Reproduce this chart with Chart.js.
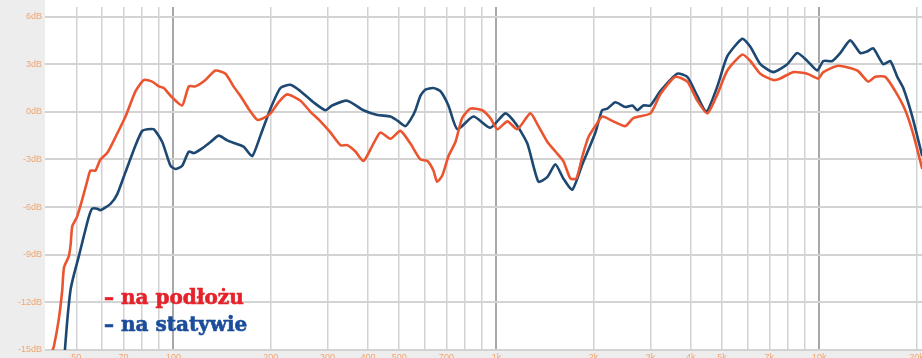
<!DOCTYPE html>
<html>
<head>
<meta charset="utf-8">
<script src="https://cdn.jsdelivr.net/npm/chart.js@4.4.1/dist/chart.umd.min.js"></script>
<style>
  html, body { margin: 0; padding: 0; background: #ffffff; }
  #wrap { width: 922px; height: 358px; position: relative; }
</style>
</head>
<body>
<div id="wrap"><canvas id="fr"></canvas></div>
<script>
// Frequency response, speaker on the floor ("na podłożu")
const surfaceHz = [42.2,42.6,44.1,45.2,45.8,47.4,48.0,48.6,50.3,52.2,54.0,55.3,57.3,59.4,62.3,66.1,71.0,76.3,80.9,85.9,90.1,93.3,99.1,106.4,111.5,117.0,125.6,134.9,144.9,153.4,161.2,170.7,181.6,189.9,199.7,211.4,224.9,247.3,265.6,285.2,306.2,328.9,345.0,366.0,387.5,416.1,437.4,469.7,504.4,541.6,581.6,611.4,638.3,655.2,680.4,710.2,746.7,783.1,830.8,903,958,1007,1082,1161,1274,1349,1439,1523,1612,1695,1769,1846,1927,2040,2129,2302,2508,2656,2998,3219,3583,3902,4191,4501,4833,5190,5776,6115,6566,7205,7574,8308,9180,9929,10290,11450,13110,14180,14910,16010,17190,18460,19540,20840];
const surfaceDb = [-15.0,-14.8,-13.1,-11.3,-9.8,-9.1,-8.4,-7.2,-6.6,-5.5,-4.4,-3.7,-3.7,-3.0,-2.6,-1.6,-0.3,1.3,2.0,1.9,1.6,1.5,0.9,0.4,1.6,1.6,2.0,2.6,2.4,1.6,1.0,0.2,-0.5,-0.4,-0.1,0.6,1.1,0.7,0.0,-0.6,-1.3,-2.1,-2.1,-2.5,-3.1,-2.0,-1.3,-1.7,-1.2,-2.0,-3.0,-3.1,-3.7,-4.4,-4.0,-2.8,-1.9,-0.4,0.2,0.1,-0.4,-1.1,-0.6,-1.1,-0.1,-0.9,-1.9,-2.5,-3.1,-4.2,-4.2,-2.8,-1.6,-0.8,-0.3,-0.6,-0.9,-0.4,-0.1,1.1,2.2,1.9,0.7,-0.1,1.1,2.6,3.6,3.2,2.4,2.0,2.1,2.5,2.4,2.1,2.5,2.9,2.6,1.9,2.2,2.2,1.3,0.1,-1.4,-3.6];

// Frequency response, speaker on a stand ("na statywie")
const standHz = [46.1,46.9,48.0,49.1,50.9,52.8,54.7,56.0,58.1,59.4,63.8,66.9,71.0,76.3,80.0,83.1,86.9,92.3,97.9,101.4,106.4,111.5,115.6,122.7,130.2,138.1,146.6,155.6,165.0,175.2,185.9,199.7,214.4,230.2,247.3,271.3,295.5,309.9,345.0,387.5,428.1,469.7,497.3,522.8,545.6,561.4,581.6,602.7,638.3,670.8,710.2,757.4,848.8,958.1,1066,1153,1247,1349,1439,1523,1612,1719,1846,2026,2124,2206,2336,2508,2637,2733,2852,2998,3219,3634,3902,4191,4469,4833,5190,5776,6115,6566,7205,7959,8547,9180,9858,10290,10970,11610,12470,13400,14080,14690,15780,16590,17440,18200,19410,20840];
const standDb = [-15.0,-13.1,-11.2,-10.3,-9.1,-7.8,-6.6,-6.1,-6.1,-6.2,-5.8,-5.2,-3.8,-2.1,-1.2,-1.1,-1.1,-1.9,-3.4,-3.6,-3.4,-2.5,-2.6,-2.3,-1.9,-1.5,-1.8,-2.0,-2.2,-2.8,-1.5,0.2,1.5,1.7,1.3,0.6,0.1,0.4,0.7,0.1,-0.2,-0.3,-0.6,-0.9,-0.4,0.1,1.0,1.4,1.5,1.3,0.4,-1.1,-0.3,-1.0,-0.1,-0.8,-2.0,-4.4,-4.1,-3.3,-4.2,-4.9,-3.3,-1.3,0.1,0.2,0.6,0.3,0.4,0.1,0.4,0.4,1.3,2.4,2.2,1.0,0.0,1.6,3.5,4.6,4.1,3.0,2.5,3.0,3.7,3.2,2.6,3.2,3.2,3.7,4.5,3.7,3.8,4.0,3.0,3.2,2.2,1.5,-0.3,-2.8];

// Axis ticks
const gridHz = [50,60,70,80,90,100,200,300,400,500,600,700,800,900,1000,2000,3000,4000,5000,6000,7000,8000,9000,10000,20000];
const decadeHz = [100,1000,10000];
const hzLabels = {50:'50',70:'70',100:'100',200:'200',300:'300',400:'400',500:'500',700:'700',1000:'1k',2000:'2k',3000:'3k',4000:'4k',5000:'5k',7000:'7k',10000:'10k',20000:'20k'};
const dbTicks = [-15,-12,-9,-6,-3,0,3,6];
const seriesNames = ['– na podłożu', '– na statywie'];

const curveColors = ['#ea5530', '#1d4871'];
const legendColors = ['#e5222a', '#1b4d9b'];

const toPoints = (xs, ys) => xs.map((x, i) => ({ x: x, y: ys[i] }));

const panelBackground = {
  id: 'panelBackground',
  beforeDraw(chart) {
    const { ctx, chartArea } = chart;
    ctx.save();
    ctx.fillStyle = '#ffffff';
    ctx.fillRect(0, 0, chart.width, chart.height);
    ctx.fillStyle = '#ededed';
    ctx.fillRect(0, 0, chartArea.left, chart.height);
    ctx.fillRect(0, chartArea.bottom, chart.width, chart.height - chartArea.bottom);
    ctx.restore();
  }
};

const seriesCaption = {
  id: 'seriesCaption',
  afterDraw(chart) {
    const { ctx } = chart;
    ctx.save();
    ctx.font = 'bold 20px "DejaVu Serif"';
    ctx.textBaseline = 'alphabetic';
    ctx.textAlign = 'left';
    ctx.lineWidth = 0.6;
    seriesNames.forEach((name, i) => {
      ctx.fillStyle = legendColors[i];
      ctx.strokeStyle = legendColors[i];
      ctx.fillText(name, 104, 304 + i * 27);
      ctx.strokeText(name, 104, 304 + i * 27);
    });
    ctx.restore();
  }
};

new Chart(document.getElementById('fr'), {
  type: 'line',
  data: {
    datasets: [
      {
        label: seriesNames[0],
        data: toPoints(surfaceHz, surfaceDb),
        borderColor: curveColors[0],
        borderWidth: 2.6,
        pointRadius: 0,
        tension: 0.2,
        fill: false
      },
      {
        label: seriesNames[1],
        data: toPoints(standHz, standDb),
        borderColor: curveColors[1],
        borderWidth: 2.6,
        pointRadius: 0,
        tension: 0.2,
        fill: false
      }
    ]
  },
  options: {
    responsive: true,
    maintainAspectRatio: false,
    animation: false,
    layout: { padding: { top: 7, left: 0, right: 0, bottom: 0 } },
    plugins: {
      legend: { display: false },
      tooltip: { enabled: false }
    },
    scales: {
      x: {
        type: 'logarithmic',
        min: 40,
        max: 20800,
        border: { display: false },
        grid: {
          drawTicks: false,
          color: (c) => decadeHz.includes(c.tick && c.tick.value) ? '#a8a8a8' : '#d2d2d2',
          lineWidth: (c) => decadeHz.includes(c.tick && c.tick.value) ? 2 : 1.5
        },
        afterBuildTicks: (scale) => { scale.ticks = gridHz.map(v => ({ value: v })); },
        afterFit: (scale) => { scale.height = 8; scale.paddingLeft = 0; scale.paddingRight = 0; },
        ticks: {
          autoSkip: false,
          maxRotation: 0,
          padding: 2,
          color: '#f2a56f',
          font: { family: 'Liberation Sans', size: 9 },
          callback: (v) => hzLabels[v] || ''
        }
      },
      y: {
        min: -15,
        max: 6.6,
        border: { display: false },
        grid: { drawTicks: false, color: '#d3d3d3', lineWidth: 2 },
        afterBuildTicks: (scale) => { scale.ticks = dbTicks.map(v => ({ value: v })); },
        afterFit: (scale) => { scale.width = 45; scale.paddingTop = 0; scale.paddingBottom = 0; },
        ticks: {
          padding: 3,
          color: '#f2a56f',
          font: { family: 'Liberation Sans', size: 9 },
          callback: (v) => v + 'dB'
        }
      }
    }
  },
  plugins: [panelBackground, seriesCaption]
});
</script>
</body>
</html>
